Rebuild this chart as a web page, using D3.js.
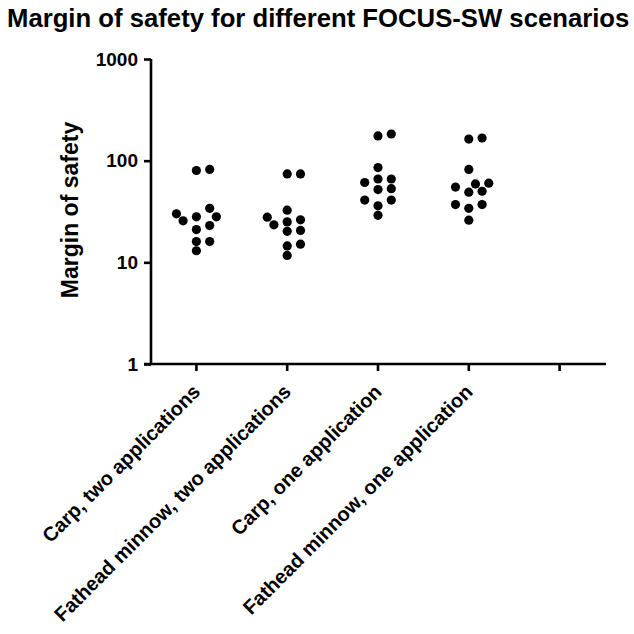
<!DOCTYPE html>
<meta charset="utf-8">
<style>
  body { margin: 0; background: #fff; }
  svg { display: block; font-family: "Liberation Sans", Arial, Helvetica, sans-serif; font-weight: bold; }
</style>
<body>
<script src="https://cdn.jsdelivr.net/npm/d3@7"></script>
<script>
  'use strict';

  const title = "Margin of safety for different FOCUS-SW scenarios",
        yLabel = "Margin of safety";

  const categories = ["Carp, two applications", "Fathead minnow, two applications",
                      "Carp, one application", "Fathead minnow, one application", ""];

  const carpTwo = [82, 80, 34, 30, 28, 28, 25.6, 23, 21, 16, 16, 13],
        minnowTwo = [74, 74, 32.6, 27.8, 26.2, 25, 23.4, 20.6, 20.2, 15.1, 14.5, 11.7],
        carpOne = [183, 175, 85.5, 66, 66, 61, 53, 52, 41, 41, 36, 29],
        minnowOne = [167, 163, 82, 60, 59, 55, 50, 49, 37, 37, 34, 26];

  const series = [carpTwo, minnowTwo, carpOne, minnowOne];
  const yTicks = [1, 10, 100, 1000];

  const width = 634, height = 634,
        r = 4.6, step = 13.3, minDist = 8.8;

  const svg = d3.select("body").append("svg")
      .attr("width", width)
      .attr("height", height);

  const x = d3.scaleBand().domain(categories).range([151, 605]);
  const y = d3.scaleLog().domain([1, 1000]).range([364, 59]);

  svg.append("text")
      .attr("x", 7).attr("y", 27)
      .style("font-size", "25.7px")
      .text(title);

  // y axis
  const yAxis = svg.append("g")
      .attr("transform", "translate(151,0)")
      .call(d3.axisLeft(y).tickValues(yTicks).tickFormat(d3.format("d")).tickSize(7).tickPadding(6));
  yAxis.select(".domain").attr("d", `M0,${y(1000)}V${y(1)}`);

  // x axis
  const xAxis = svg.append("g")
      .attr("transform", "translate(0,364)")
      .call(d3.axisBottom(x).tickSize(7).tickFormat(""));
  xAxis.select(".domain").attr("d", "M144,0H606");

  svg.selectAll(".domain, .tick line")
      .attr("stroke", "#000")
      .attr("stroke-width", 2.6);
  yAxis.selectAll(".tick text")
      .attr("fill", "#000")
      .style("font-size", "19px")
      .style("font-family", "inherit")
      .style("font-weight", "bold");

  svg.append("text")
      .attr("transform", "translate(78,210) rotate(-90)")
      .attr("text-anchor", "middle")
      .style("font-size", "23px")
      .text(yLabel);

  svg.append("g").selectAll("text")
      .data(categories.filter((d) => d))
      .enter().append("text")
      .attr("text-anchor", "end")
      .attr("transform", (d) => `translate(${x(d) + x.bandwidth() / 2 + 5},393) rotate(-45)`)
      .style("font-size", "20px")
      .text((d) => d);

  // simple column swarm, lowest values first
  function swarm(values, cx) {
    const placed = [];
    const order = [0, 1, -1, 0.5, -0.5, 1.5, -1.5, 2, -2];
    values.slice().sort((a, b) => a - b).forEach((v) => {
      const py = y(v);
      for (const k of order) {
        const px = cx + k * step;
        if (placed.every((p) => Math.hypot(p.x - px, p.y - py) >= minDist)) {
          placed.push({x: px, y: py});
          break;
        }
      }
    });
    return placed;
  }

  series.forEach((vals, i) => {
    const cx = x(categories[i]) + x.bandwidth() / 2;
    svg.append("g").selectAll("circle")
        .data(swarm(vals, cx))
        .enter().append("circle")
        .attr("cx", (d) => d.x)
        .attr("cy", (d) => d.y)
        .attr("r", r)
        .attr("fill", "#000");
  });
</script>
</body>
